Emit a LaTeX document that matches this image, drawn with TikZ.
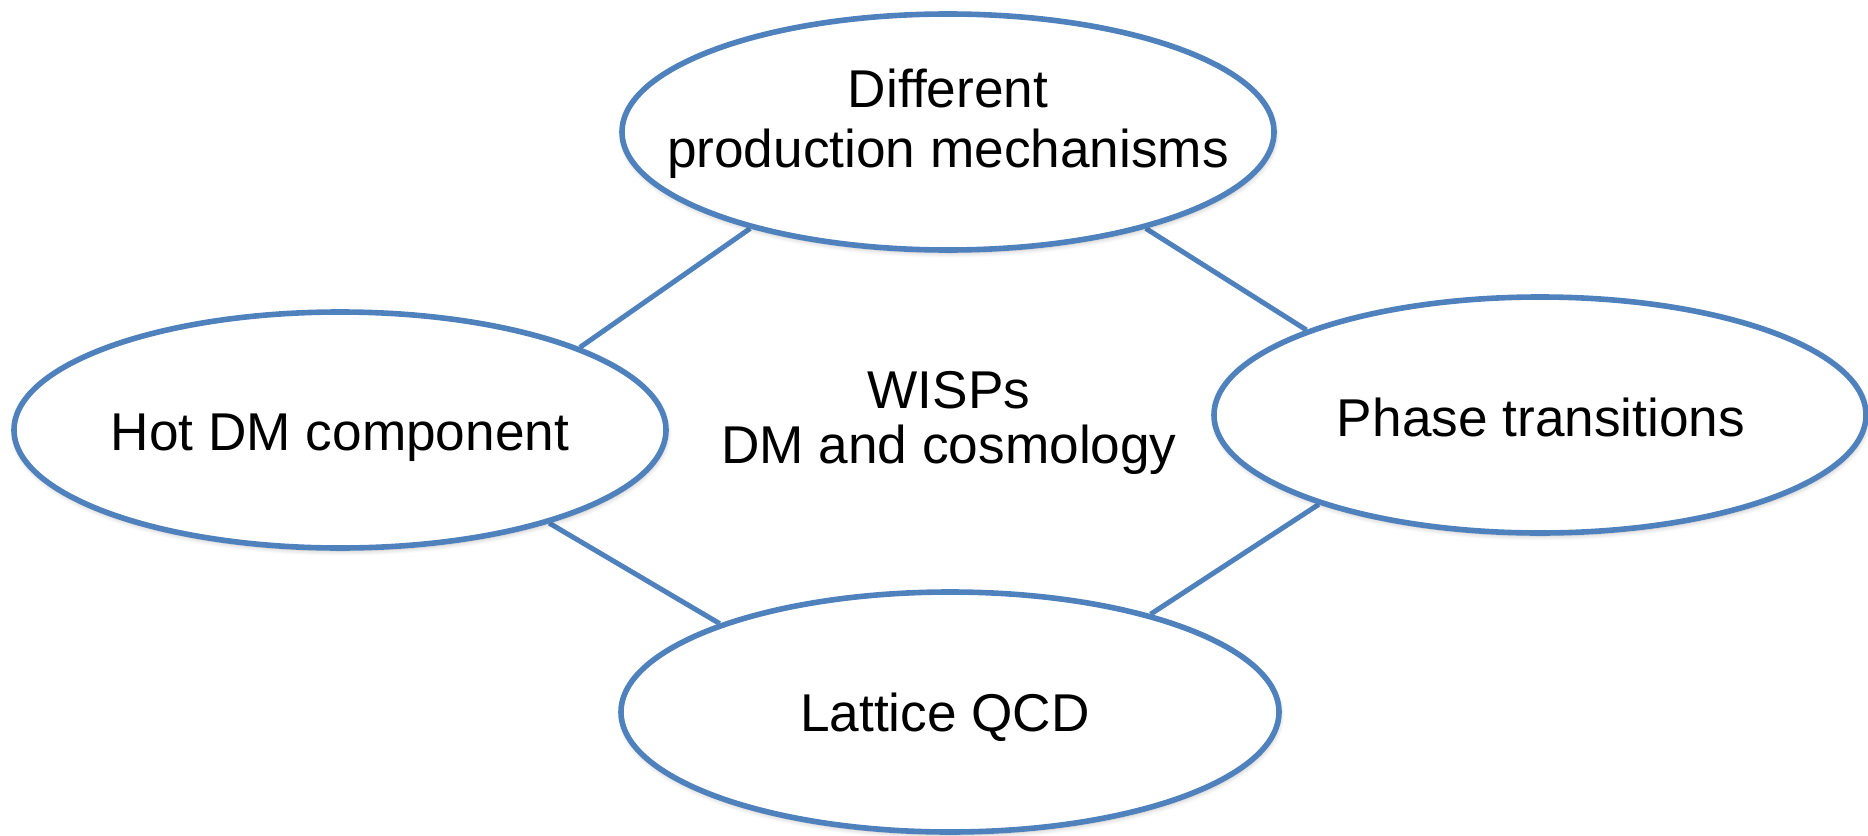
\documentclass[tikz,border=0pt]{standalone}
\usepackage{fontspec}
\setmainfont{Liberation Sans}
\usetikzlibrary{shapes.geometric,backgrounds,shadows.blur}
\definecolor{edgeblue}{HTML}{4F81BD}
\begin{document}
\begin{tikzpicture}[x=0.5pt,y=-0.5pt,
  bubble/.style={ellipse, draw=edgeblue, line width=2.8pt, fill=white,
    minimum width=326pt, minimum height=118pt, inner sep=0pt,
    blur shadow={shadow xshift=0.5pt, shadow yshift=-1.5pt,
      shadow blur radius=2.5pt, shadow blur steps=8, shadow opacity=25}},
  txt/.style={inner sep=0pt, align=center,
    font=\fontsize{26.6pt}{30pt}\selectfont},
  link/.style={draw=edgeblue, line width=2.5pt}]
  \useasboundingbox (0,0) rectangle (1868,835);

  % the four topics
  \node[bubble] (prod)    at (948,132)  {};
  \node[bubble] (hot)     at (340,430)  {};
  \node[bubble] (phase)   at (1540,415) {};
  \node[bubble, minimum width=329pt, minimum height=120pt] (lattice) at (950,712) {};

  % captions
  \node[txt] (prodtxt) at (948,124) {Different\\production mechanisms};
  \node[txt, anchor=base] (hottxt) at (340,450) {Hot DM component};
  \node[txt, anchor=base] (phasetxt) at (1541,436) {Phase transitions};
  \node[txt, anchor=base] (latticetxt) at (945,731) {Lattice QCD};
  \node[txt, font=\fontsize{26.6pt}{27.5pt}\selectfont] (centre) at (949,423)
    {WISPs\\DM and cosmology};

  % connecting lines, hidden behind the ellipses
  \begin{scope}[on background layer]
    \draw[link] (prod.206) -- (hot.19);
    \draw[link] (prod.334) -- (phase.160);
    \draw[link] (hot.336) -- (lattice.159);
    \draw[link] (phase.202) -- (lattice.26);
  \end{scope}
\end{tikzpicture}
\end{document}
